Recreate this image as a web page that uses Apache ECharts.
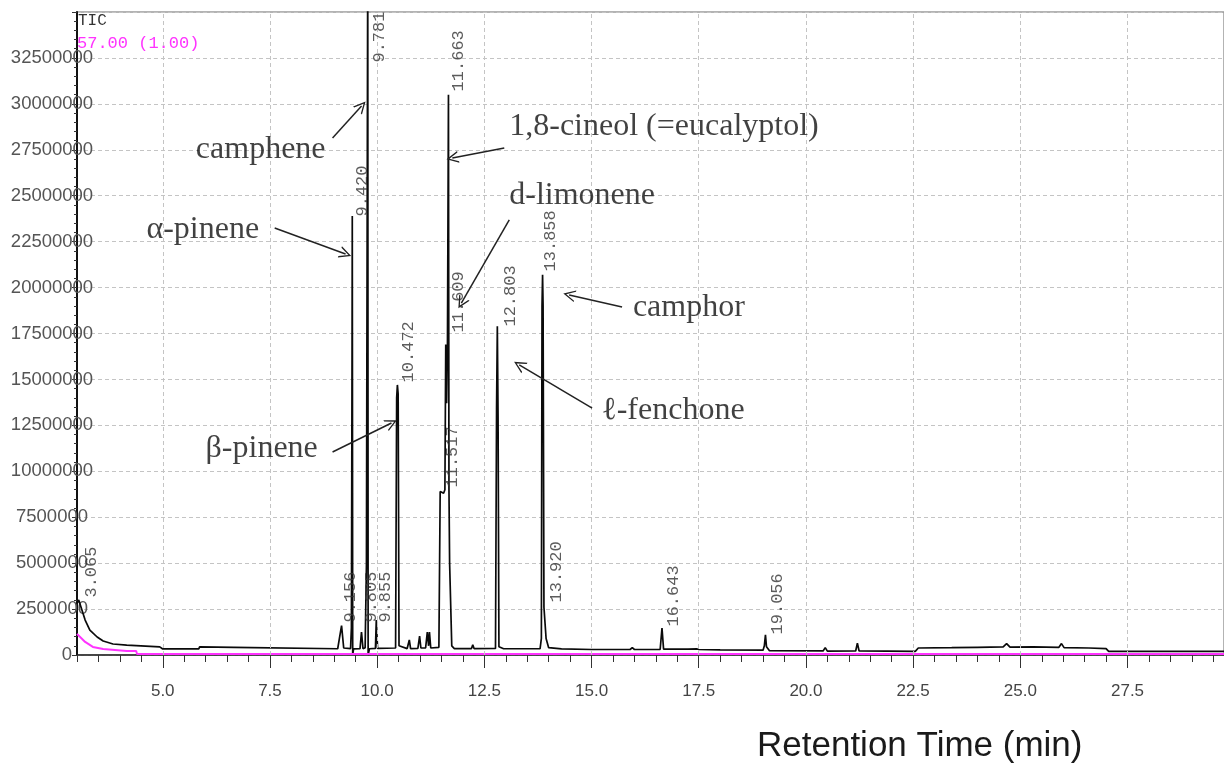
<!DOCTYPE html>
<html>
<head>
<meta charset="utf-8">
<script src="https://cdn.jsdelivr.net/npm/echarts@6/dist/echarts.min.js"></script>
<style>
html,body{margin:0;padding:0;background:#fff;}
#chart{width:1224px;height:765px;}
</style>
</head>
<body>
<div id="chart"></div>
<script>
// ---------- data ----------
// TIC trace: [retention time (min), intensity]
const ticTrace = [
  [3.00, 2800000], [3.04, 3000000], [3.07, 2950000], [3.19, 1900000], [3.30, 1360000],
  [3.47, 980000], [3.61, 760000], [3.84, 600000], [4.16, 540000], [4.93, 440000],
  [5.00, 330000], [5.84, 330000], [5.86, 440000], [6.66, 420000], [6.70, 330000],
  [9.08, 340000], [9.12, 900000], [9.17, 1600000], [9.22, 380000], [9.38, 350000],
  [9.40, 1500000], [9.415, 17000000], [9.42, 23900000], [9.43, 0], [9.45, 330000],
  [9.60, 340000], [9.635, 1250000], [9.67, 340000], [9.72, 400000], [9.75, 4900000],
  [9.77, 5000000], [9.781, 38500000], [9.79, 0], [9.82, 340000], [9.96, 360000],
  [9.98, 1900000], [10.01, 360000], [10.43, 380000], [10.455, 14000000], [10.472, 14700000],
  [10.49, 14200000], [10.51, 500000], [10.70, 350000], [10.75, 820000], [10.78, 350000],
  [10.95, 360000], [10.99, 1030000], [11.02, 380000], [11.13, 380000], [11.17, 1250000],
  [11.20, 500000], [11.22, 1250000], [11.25, 380000], [11.44, 420000], [11.47, 8900000],
  [11.55, 8800000], [11.58, 9000000], [11.60, 16900000], [11.62, 13700000], [11.64, 16900000],
  [11.663, 30500000], [11.675, 9000000], [11.69, 5000000], [11.72, 4900000], [11.74, 500000],
  [11.80, 350000], [12.20, 350000], [12.23, 550000], [12.26, 350000], [12.76, 360000],
  [12.785, 13400000], [12.803, 17900000], [12.82, 13000000], [12.84, 450000], [12.95, 340000],
  [13.80, 340000], [13.83, 900000], [13.845, 19000000], [13.858, 20700000], [13.87, 19000000],
  [13.89, 2600000], [13.92, 2550000], [13.94, 900000], [14.00, 400000], [14.30, 330000],
  [15.00, 300000], [15.90, 300000], [15.95, 400000], [16.00, 300000], [16.60, 300000],
  [16.643, 1470000], [16.68, 320000], [17.20, 320000], [17.22, 420000], [17.25, 320000],
  [17.45, 330000], [17.47, 420000], [17.50, 300000], [18.00, 280000], [19.00, 260000],
  [19.03, 500000], [19.056, 1100000], [19.08, 450000], [19.15, 230000], [20.40, 220000],
  [20.45, 400000], [20.50, 210000], [21.16, 220000], [21.20, 650000], [21.24, 220000],
  [22.55, 200000], [22.62, 380000], [23.40, 400000], [24.00, 420000], [24.60, 440000],
  [24.68, 620000], [24.76, 430000], [25.30, 440000], [25.90, 420000], [25.96, 620000],
  [26.02, 400000], [26.60, 380000], [27.00, 350000], [27.06, 200000], [28.50, 200000],
  [29.75, 200000]
];
// m/z 57.00 trace
const mz57Trace = [
  [3.00, 1150000], [3.02, 1090000], [3.19, 710000], [3.37, 440000], [3.61, 330000],
  [4.16, 220000], [4.38, 220000], [4.40, 50000], [11.64, 50000], [11.663, 130000],
  [11.69, 50000], [13.84, 50000], [13.858, 130000], [13.88, 50000], [29.75, 50000]
];
// peak labels: text, anchor time, anchor intensity (bottom end of the label)
const peakLabelTexts  = ['3.065', '9.156', '9.420', '9.781', '9.805', '9.855', '10.472', '11.517', '11.609', '11.663', '12.803', '13.858', '13.920', '16.643', '19.056'];
const peakLabelTimes  = [3.07, 9.12, 9.40, 9.78, 9.59, 9.915, 10.474, 11.50, 11.64, 11.64, 12.84, 13.78, 13.91, 16.64, 19.06];
const peakLabelValues = [3100000, 1740000, 23840000, 32220000, 1740000, 1740000, 14810000, 9090000, 17530000, 30650000, 17850000, 20850000, 2830000, 1520000, 1090000];
// compound annotations
const compoundNames  = ['camphene', 'α-pinene', 'β-pinene', '1,8-cineol (=eucalyptol)', 'd-limonene', 'camphor', 'ℓ-fenchone'];
const compoundTimes  = [7.284, 5.934, 7.307, 16.69, 14.78, 17.27, 16.90];
const compoundValues = [27490000, 23130000, 11210000, 28740000, 24980000, 18890000, 13280000];
// arrows: [start time, start value] -> [end time, end value]
const arrowStarts = [[8.960, 28140000], [7.610, 23240000], [8.960, 11050000], [12.965, 27600000], [13.081, 23680000], [15.712, 18940000], [15.014, 13440000]];
const arrowEnds   = [[9.636, 29880000], [9.263, 21830000], [10.334, 12630000], [11.754, 27050000], [11.964, 19160000], [14.478, 19600000], [13.314, 15790000]];
// axes
const xLabelValues = [5.0, 7.5, 10.0, 12.5, 15.0, 17.5, 20.0, 22.5, 25.0, 27.5];
const xMin = 3.0, xMax = 29.75;
const yMax = 35000000, yInterval = 2500000;

// ---------- chart ----------
const chart = echarts.init(document.getElementById('chart'), null, {renderer: 'canvas'});
const gridColor = '#c4c4c4';
const option = {
  animation: false,
  backgroundColor: '#fff',
  grid: {left: 77, top: 12, right: -2, bottom: 110, show: true, borderColor: '#9a9a9a', borderWidth: 1.5, backgroundColor: 'transparent'},
  graphic: [
    {type: 'text', left: 78, top: 13, style: {text: 'TIC', font: '16px "Liberation Mono", monospace', fill: '#333'}},
    {type: 'text', left: 77, top: 35, style: {text: '57.00 (1.00)', font: '17px "Liberation Mono", monospace', fill: '#ff33ff'}},
    {type: 'text', left: 757, top: 729, style: {text: 'Retention Time (min)', font: '35px "Liberation Sans", Arial, sans-serif', fill: '#1a1a1a'}}
  ],
  xAxis: [
    {
      type: 'value', min: xMin, max: xMax, interval: 0.5, position: 'bottom',
      axisLine: {show: true, onZero: false, lineStyle: {color: '#222', width: 1.5}},
      axisTick: {show: true, length: 7, lineStyle: {color: '#333', width: 1}},
      axisLabel: {show: false},
      splitLine: {show: false}
    },
    {
      type: 'value', min: xMin, max: xMax, position: 'bottom', gridIndex: 0,
      axisLine: {show: false},
      axisTick: {show: true, length: 13, customValues: xLabelValues, lineStyle: {color: '#333', width: 1}},
      axisLabel: {
        show: true, customValues: xLabelValues, margin: 28,
        fontFamily: '"Liberation Sans", Arial, sans-serif', fontSize: 17, color: '#444',
        formatter: v => Number(v).toFixed(1)
      },
      splitLine: {show: false}
    }
  ],
  yAxis: {
    type: 'value', min: 0, max: yMax, interval: yInterval,
    axisLine: {show: true, lineStyle: {color: '#111', width: 2}},
    axisTick: {show: true, length: 5, lineStyle: {color: '#333'}},
    minorTick: {show: true, splitNumber: 5, length: 3, lineStyle: {color: '#333'}},
    axisLabel: {
      margin: 25, align: 'center',
      fontFamily: '"Liberation Sans", Arial, sans-serif', fontSize: 18.5, color: '#555',
      formatter: v => v >= yMax ? '' : (v === 0 ? '{z|0}' : String(v)),
      rich: {z: {padding: [0, 0, 0, 30], fontFamily: '"Liberation Sans", Arial, sans-serif', fontSize: 18.5, color: '#555'}}
    },
    splitLine: {show: true, lineStyle: {color: gridColor, type: [4, 3], width: 1}}
  },
  series: [
    {
      name: 'xgrid', type: 'scatter', data: [], z: 0, silent: true,
      markLine: {
        silent: true, symbol: ['none', 'none'], label: {show: false},
        lineStyle: {color: gridColor, type: [4, 3], width: 1},
        data: xLabelValues.map(v => ({xAxis: v}))
      }
    },
    {
      name: 'TIC', type: 'line', data: ticTrace, showSymbol: false, symbol: 'none',
      sampling: null, z: 3, clip: true,
      lineStyle: {color: '#0a0a0a', width: 1.7}
    },
    {
      name: '57.00', type: 'line', data: mz57Trace, showSymbol: false, symbol: 'none',
      z: 4, lineStyle: {color: '#ff33ff', width: 2}
    },
    {
      name: 'peakLabels', type: 'scatter', silent: true, z: 5,
      symbolSize: 1, itemStyle: {color: 'rgba(0,0,0,0)'},
      data: peakLabelTexts.map((t, i) => [peakLabelTimes[i], peakLabelValues[i], t]),
      label: {
        show: true, formatter: p => p.value[2], rotate: 90, position: [12, 0],
        align: 'left', verticalAlign: 'middle',
        fontFamily: '"Liberation Mono", monospace', fontSize: 17, color: '#333'
      }
    },
    {
      name: 'compounds', type: 'scatter', silent: true, z: 6,
      symbolSize: 1, itemStyle: {color: 'rgba(0,0,0,0)'},
      data: compoundNames.map((n, i) => [compoundTimes[i], compoundValues[i], n]),
      label: {
        show: true, formatter: p => p.value[2], position: 'inside',
        align: 'center', verticalAlign: 'middle',
        fontFamily: '"Liberation Serif", "DejaVu Serif", serif', fontSize: 32, color: '#111'
      }
    },
    {
      name: 'arrows', type: 'lines', coordinateSystem: 'cartesian2d', silent: true, z: 6,
      symbol: ['none', 'path://M0,12 L6,0 L12,12 L10.5,12 L6,3 L1.5,12 Z'], symbolSize: [10, 12],
      lineStyle: {color: '#222', width: 1.5, opacity: 1},
      data: arrowStarts.map((s, i) => ({coords: [s, arrowEnds[i]]}))
    }
  ]
};
chart.setOption(option);
</script>
</body>
</html>
